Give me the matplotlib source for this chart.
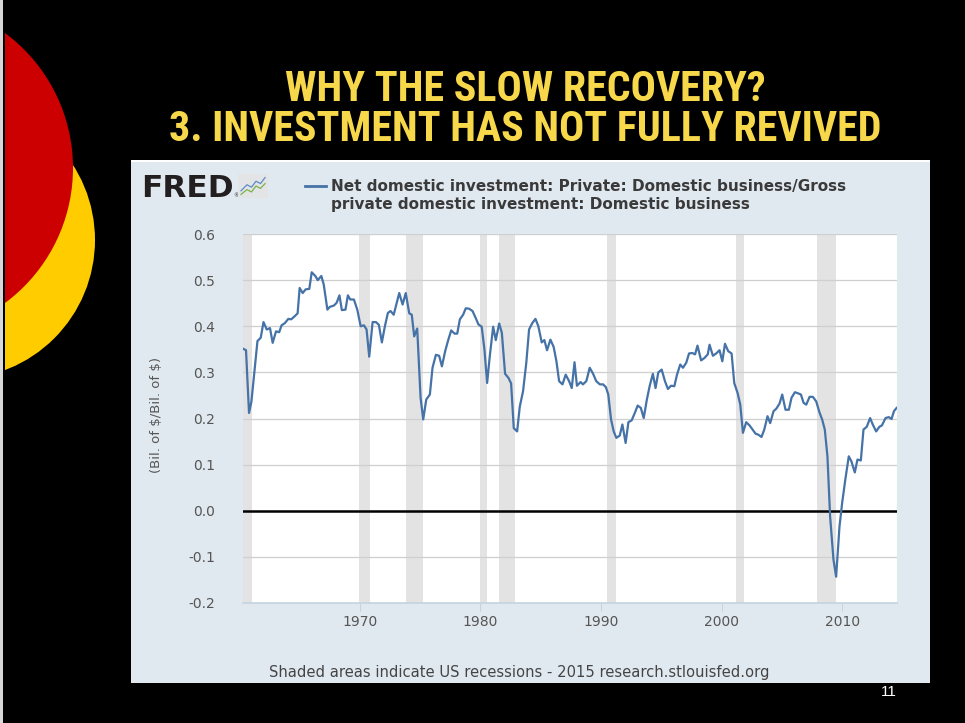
import matplotlib
matplotlib.use("Agg")
import matplotlib.pyplot as plt
from matplotlib import font_manager as fm
from matplotlib.patches import Circle, Rectangle

# Quarterly ratio: net / gross private domestic business investment
years = [
    1960.33, 1960.55, 1960.80, 1961.00, 1961.50, 1961.77, 1962.00, 1962.27, 1962.54, 1962.76,
    1963.04, 1963.30, 1963.50, 1963.78, 1964.06, 1964.30, 1964.60, 1964.83, 1965.00, 1965.25,
    1965.50, 1965.80, 1966.00, 1966.30, 1966.50, 1966.80, 1967.00, 1967.30, 1967.50, 1967.85,
    1968.07, 1968.30, 1968.50, 1968.80, 1969.00, 1969.20, 1969.50, 1969.78, 1970.06, 1970.33,
    1970.55, 1970.77, 1971.05, 1971.33, 1971.57, 1971.82, 1972.07, 1972.32, 1972.54, 1972.80,
    1973.26, 1973.54, 1973.80, 1974.09, 1974.30, 1974.50, 1974.75, 1975.03, 1975.25, 1975.50,
    1975.80, 1976.02, 1976.30, 1976.57, 1976.80, 1977.07, 1977.30, 1977.57, 1977.85, 1978.07,
    1978.29, 1978.56, 1978.78, 1979.06, 1979.34, 1979.60, 1979.83, 1980.10, 1980.33, 1980.55,
    1980.77, 1981.05, 1981.27, 1981.55, 1981.77, 1982.04, 1982.32, 1982.54, 1982.76, 1983.04,
    1983.26, 1983.53, 1983.80, 1984.03, 1984.30, 1984.56, 1984.80, 1985.08, 1985.30, 1985.52,
    1985.80, 1986.07, 1986.30, 1986.52, 1986.80, 1987.07, 1987.35, 1987.57, 1987.80, 1988.00,
    1988.30, 1988.50, 1988.78, 1989.06, 1989.34, 1989.60, 1989.90, 1990.17, 1990.40, 1990.60,
    1990.83, 1991.05, 1991.27, 1991.55, 1991.77, 1992.04, 1992.27, 1992.54, 1992.80, 1993.04,
    1993.30, 1993.54, 1993.80, 1994.03, 1994.30, 1994.52, 1994.75, 1995.03, 1995.30, 1995.55,
    1995.80, 1996.08, 1996.30, 1996.57, 1996.80, 1997.07, 1997.30, 1997.57, 1997.80, 1998.00,
    1998.30, 1998.57, 1998.85, 1999.00, 1999.28, 1999.55, 1999.83, 2000.06, 2000.28, 2000.55,
    2000.83, 2001.05, 2001.33, 2001.55, 2001.77, 2002.04, 2002.32, 2002.54, 2002.82, 2003.04,
    2003.31, 2003.54, 2003.81, 2004.03, 2004.31, 2004.53, 2004.80, 2005.03, 2005.30, 2005.58,
    2005.80, 2006.08, 2006.30, 2006.58, 2006.80, 2007.02, 2007.30, 2007.57, 2007.85, 2008.12,
    2008.34, 2008.56, 2008.78, 2009.00, 2009.28, 2009.50, 2009.78, 2010.00, 2010.27, 2010.55,
    2010.77, 2011.05, 2011.27, 2011.55, 2011.77, 2012.04, 2012.32, 2012.54, 2012.82, 2013.09,
    2013.30, 2013.60, 2013.87, 2014.10, 2014.30, 2014.52,
]
values = [
    0.351, 0.348, 0.212, 0.237, 0.368, 0.375, 0.409, 0.393, 0.396, 0.364,
    0.389, 0.387, 0.402, 0.407, 0.416, 0.415, 0.422, 0.428, 0.483, 0.472,
    0.480, 0.481, 0.517, 0.509, 0.500, 0.509, 0.490, 0.436, 0.442, 0.445,
    0.451, 0.467, 0.435, 0.436, 0.467, 0.458, 0.458, 0.436, 0.400, 0.402,
    0.393, 0.334, 0.409, 0.409, 0.403, 0.365, 0.400, 0.429, 0.433, 0.425,
    0.472, 0.447, 0.472, 0.428, 0.425, 0.378, 0.395, 0.245, 0.198, 0.241,
    0.252, 0.310, 0.338, 0.336, 0.313, 0.346, 0.368, 0.391, 0.384, 0.384,
    0.415, 0.425, 0.439, 0.438, 0.433, 0.418, 0.404, 0.399, 0.349, 0.277,
    0.335, 0.399, 0.370, 0.406, 0.386, 0.297, 0.288, 0.276, 0.179, 0.172,
    0.226, 0.259, 0.321, 0.393, 0.407, 0.416, 0.400, 0.365, 0.370, 0.348,
    0.371, 0.355, 0.324, 0.281, 0.274, 0.295, 0.281, 0.266, 0.322, 0.271,
    0.279, 0.274, 0.281, 0.310, 0.297, 0.281, 0.274, 0.274, 0.268, 0.252,
    0.198, 0.172, 0.158, 0.163, 0.187, 0.147, 0.192, 0.196, 0.212, 0.228,
    0.223, 0.201, 0.241, 0.270, 0.297, 0.266, 0.300, 0.306, 0.281, 0.264,
    0.271, 0.270, 0.295, 0.317, 0.310, 0.321, 0.341, 0.342, 0.339, 0.358,
    0.326, 0.331, 0.339, 0.360, 0.336, 0.341, 0.348, 0.324, 0.362, 0.346,
    0.341, 0.277, 0.255, 0.230, 0.169, 0.192, 0.185, 0.177, 0.167, 0.165,
    0.160, 0.176, 0.205, 0.190, 0.216, 0.221, 0.232, 0.252, 0.219, 0.219,
    0.245, 0.257, 0.255, 0.252, 0.234, 0.230, 0.247, 0.247, 0.237, 0.213,
    0.198, 0.176, 0.118, -0.012, -0.106, -0.143, -0.034, 0.017, 0.069, 0.118,
    0.107, 0.083, 0.111, 0.109, 0.176, 0.182, 0.201, 0.187, 0.172, 0.182,
    0.185, 0.201, 0.203, 0.199, 0.216, 0.223,
]

# NBER recession periods (decimal years)
recessions = [
    (1960.25, 1961.08), (1969.92, 1970.87), (1973.83, 1975.20), (1980.00, 1980.54),
    (1981.50, 1982.88), (1990.50, 1991.20), (2001.17, 2001.87), (2007.90, 2009.50),
]

y_ticks = [-0.2, -0.1, 0.0, 0.1, 0.2, 0.3, 0.4, 0.5, 0.6]
y_tick_labels = ["-0.2", "-0.1", "0.0", "0.1", "0.2", "0.3", "0.4", "0.5", "0.6"]
x_ticks = [1970, 1980, 1990, 2000, 2010]
x_tick_labels = ["1970", "1980", "1990", "2000", "2010"]

title_lines = ["WHY THE SLOW RECOVERY?", "3. INVESTMENT HAS NOT FULLY REVIVED"]
legend_lines = ["Net domestic investment: Private: Domestic business/Gross",
                "private domestic investment: Domestic business"]
y_label = r"(Bil. of \$/Bil. of \$)"
footer = "Shaded areas indicate US recessions - 2015 research.stlouisfed.org"
slide_number = "11"

W, H = 965, 723
SERIES_BLUE = "#4572A7"
PANEL = "#E1E9F0"


def narrow_bold_font():
    """Pick a bold narrow/condensed sans face if one is installed."""
    preferred = ["liberation sans narrow", "arial narrow", "roboto condensed",
                 "open sans condensed", "noto sans condensed", "dejavu sans condensed",
                 "dejavu sans"]
    candidates = []
    for f in fm.fontManager.ttflist:
        w = f.weight
        if isinstance(w, str):
            w = fm.weight_dict.get(w, 400)
        stretch = str(f.stretch).lower()
        fname = f.fname.lower()
        narrow = ("narrow" in f.name.lower() or "condensed" in f.name.lower()
                  or "condensed" in stretch or "narrow" in fname or "condensed" in fname)
        if not narrow or w < 600:
            continue
        key = f.name.lower()
        rank = len(preferred)
        for i, p in enumerate(preferred):
            if key.startswith(p) or p.replace(" ", "") in fname.replace("-", "").replace("_", ""):
                rank = i
                break
        candidates.append((rank, abs(w - 700), f.fname))
    if candidates:
        candidates.sort()
        return fm.FontProperties(fname=candidates[0][2])
    return fm.FontProperties(family=["Liberation Sans", "DejaVu Sans"], weight="bold")


fig = plt.figure(figsize=(W / 100, H / 100), dpi=100, facecolor="black")

# Slide background layer in pixel coordinates
bg = fig.add_axes([0, 0, 1, 1])
bg.set_xlim(0, W)
bg.set_ylim(H, 0)
bg.axis("off")
bg.add_patch(Circle((-44, 240), 139, color="#FFCC00", lw=0))
bg.add_patch(Circle((-95, 168), 168, color="#CC0000", lw=0))
bg.add_patch(Rectangle((0, 0), 5, H, color="black", lw=0))
bg.add_patch(Rectangle((0, 0), 2.7, H, color="#D8D8D8", lw=0))
bg.add_patch(Rectangle((131, 161), 799, 522, color=PANEL, lw=0))
bg.add_patch(Rectangle((131, 160), 799, 1.5, color="white", lw=0))

TITLE_SIZE = 28.5
title_fp = narrow_bold_font()
title_fp.set_size(TITLE_SIZE)
title_targets = [513, 736]
title_texts = []
for line, base in zip(title_lines, [101, 141]):
    title_texts.append(bg.text(525, base, line, ha="center", va="baseline",
                               fontproperties=title_fp.copy(), color="#F8D84B"))
fig.canvas.draw()
renderer = fig.canvas.get_renderer()
for t, target in zip(title_texts, title_targets):
    width = t.get_window_extent(renderer).width
    scale = min(max(target / width, 0.8), 1.06)
    t.set_fontsize(TITLE_SIZE * scale)

# FRED wordmark
bg.text(141, 197, "FRED", ha="left", va="baseline", fontsize=22.5,
        fontweight="heavy", family="DejaVu Sans", color="#231F20")
bg.text(233, 197, "®", ha="left", va="baseline", fontsize=4, color="#231F20")
icon = fig.add_axes([238 / W, 1 - 198 / H, 30 / W, 24 / H])
icon.set_facecolor("#E2E4E6")
icon.set_xlim(0, 10)
icon.set_ylim(0, 10)
icon.set_xticks([])
icon.set_yticks([])
for s in icon.spines.values():
    s.set_visible(False)
icon.plot([1, 3, 4.5, 6, 7.5, 9], [3, 5.5, 4.5, 7, 6, 8.5], color="#5B8BC8", lw=0.9)
icon.plot([1, 3, 4.5, 6, 7.5, 9], [1.5, 3.5, 2.5, 5, 4, 6], color="#7DB24A", lw=0.9)

# Legend entry
bg.plot([305, 326], [186, 186], color=SERIES_BLUE, lw=2)
bg.text(331, 186, legend_lines[0], ha="left", va="center", fontsize=11,
        fontweight="bold", family="DejaVu Sans", color="#3A3A3A")
bg.text(331, 204, legend_lines[1], ha="left", va="center", fontsize=11,
        fontweight="bold", family="DejaVu Sans", color="#3A3A3A")

bg.text(157, 415, y_label, ha="center", va="center", rotation=90, fontsize=9.5,
        family="DejaVu Sans", color="#555555")
bg.text(519, 672, footer, ha="center", va="center", fontsize=10.6,
        family="DejaVu Sans", color="#444444")
bg.text(889, 692, slide_number, ha="center", va="center", fontsize=11,
        family="Liberation Sans", color="white")

# Chart area
ax = fig.add_axes([243 / W, (H - 603) / H, 654 / W, 369 / H])
ax.set_facecolor("white")
ax.set_xlim(1960.3, 2014.55)
ax.set_ylim(-0.2, 0.6)
for start, end in recessions:
    ax.axvspan(start, end, color="#E3E3E3", lw=0, zorder=0)
ax.set_yticks(y_ticks)
ax.set_yticklabels(y_tick_labels)
ax.set_xticks(x_ticks)
ax.set_xticklabels(x_tick_labels)
ax.grid(axis="y", color="#CFCFCF", lw=0.9, zorder=1)
ax.set_axisbelow(True)
ax.axhline(0, color="black", lw=1.8, zorder=2)
ax.plot(years, values, color=SERIES_BLUE, lw=1.6, zorder=3, solid_joinstyle="round")

for side in ("top", "left", "right"):
    ax.spines[side].set_visible(False)
ax.spines["bottom"].set_color("#C5D3E0")
ax.spines["bottom"].set_linewidth(1.2)
ax.tick_params(axis="y", length=0, pad=20, labelsize=10, labelcolor="#555555")
ax.tick_params(axis="x", length=6, width=0.8, color="#C5D3E0", pad=3,
               labelsize=10, labelcolor="#555555")

fig.savefig("out.png", dpi=100, facecolor="black")
